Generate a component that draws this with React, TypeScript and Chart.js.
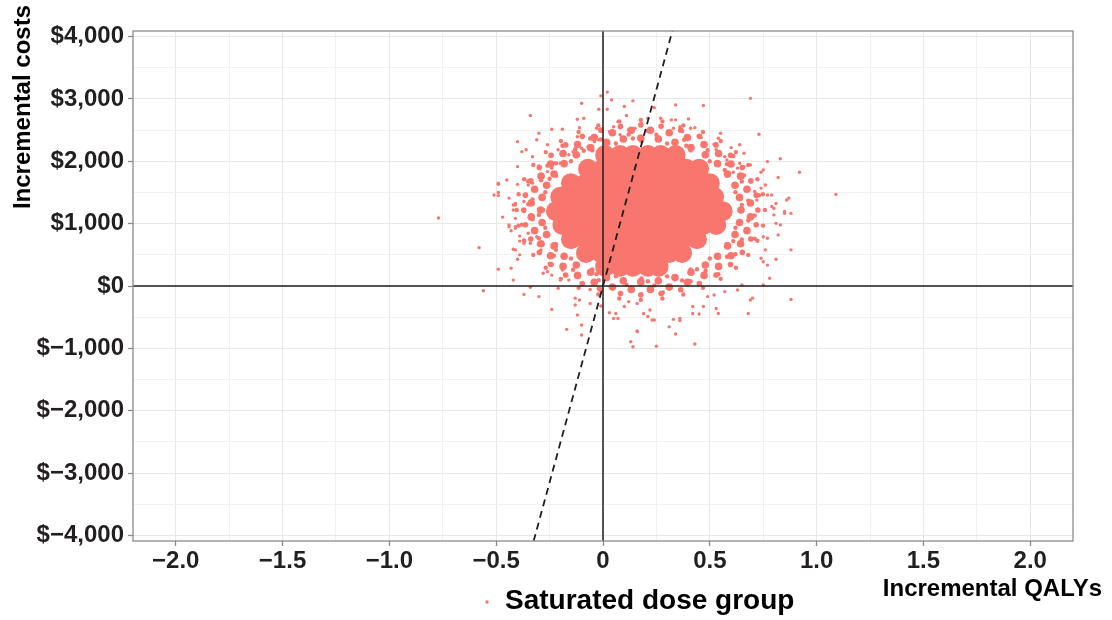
import React, { useEffect, useRef } from 'react';
import { Chart, registerables } from 'chart.js';

Chart.register(...registerables);

// ---------- axis setup ----------
const X_MIN = -2.2;
const X_MAX = 2.2;
const Y_MIN = -4090;
const Y_MAX = 4090;

const xMajorTicks = [-2, -1.5, -1, -0.5, 0, 0.5, 1, 1.5, 2];
const xTickLabels = ['−2.0', '−1.5', '−1.0', '−0.5', '0', '0.5', '1.0', '1.5', '2.0'];
const xMinorTicks = [-1.75, -1.25, -0.75, -0.25, 0.25, 0.75, 1.25, 1.75];

const yMajorTicks = [-4000, -3000, -2000, -1000, 0, 1000, 2000, 3000, 4000];
const yTickLabels = ['$−4,000', '$−3,000', '$−2,000', '$−1,000', '$0', '$1,000', '$2,000', '$3,000', '$4,000'];
const yMinorTicks = [-3500, -2500, -1500, -500, 500, 1500, 2500, 3500];

const wtpThreshold = 12600; // slope of the dashed willingness-to-pay line ($ per QALY)

const seriesLabel = 'Saturated dose group';
const xTitle = 'Incremental QALYs';
const yTitle = 'Incremental costs';

// ---------- simulated (incremental QALY, incremental cost) pairs ----------
const scatterPoints: [number, number][] = [
  // upper-left
  [0.02, 3110], [-0.01, 3050], [0.04, 2985], [0.14, 2970], [-0.10, 2930], [-0.02, 2835], [0.02, 2835],
  [0.10, 2880], [-0.34, 2735], [0.11, 2735], [-0.12, 2675], [-0.09, 2690], [-0.24, 2515], [-0.19, 2515],
  [-0.11, 2540], [-0.30, 2450], [-0.03, 2530], [0.07, 2635], [-0.40, 2315], [-0.31, 2345], [-0.26, 2265],
  [-0.12, 2395], [-0.36, 2185], [-0.38, 2155], [-0.21, 2185], [-0.17, 2265], [-0.33, 2075], [-0.40, 1915],
  [-0.30, 1925], [-0.45, 1700], [-0.49, 1650], [-0.51, 1460], [-0.40, 1630], [-0.35, 1620], [-0.33, 1650],
  [-0.44, 1410], [-0.41, 1325], [-0.42, 1300], [-0.37, 1355], [-0.37, 1195], [-0.26, 1835], [-0.24, 1890],
  [-0.20, 1970], [-0.16, 2105], [-0.14, 2155], [-0.10, 2210], [-0.07, 2235], [-0.04, 2315], [-0.02, 2345],
  [0.03, 2475], [0.05, 2555], [0.08, 2425], [0.12, 2505], [0.15, 2530], [0.18, 2610], [0.21, 2690],
  // upper-right
  [0.69, 3010], [0.34, 2905], [0.47, 2895], [0.24, 2860], [0.40, 2680], [0.32, 2665], [0.34, 2665],
  [0.27, 2690], [0.73, 2435], [0.55, 2450], [0.54, 2370], [0.41, 2530], [0.43, 2540], [0.46, 2380],
  [0.36, 2555], [0.33, 2530], [0.52, 2275], [0.53, 2185], [0.60, 2220], [0.64, 2265], [0.66, 2130],
  [0.57, 2075], [0.58, 2020], [0.83, 2040], [0.77, 1995], [0.92, 1825], [0.69, 1940], [0.66, 1915],
  [0.74, 1825], [0.75, 1860], [0.82, 1740], [0.64, 1970], [0.63, 1890], [0.61, 1825], [1.09, 1470],
  [0.87, 1410], [0.86, 1380], [0.79, 1460], [0.77, 1460], [0.74, 1570], [0.76, 1620], [0.80, 1245],
  [0.85, 1195], [0.81, 1325], [0.72, 1380], [0.71, 1515],
  // lower-left
  [-0.56, -75], [-0.49, 270], [-0.42, 95], [-0.43, 285], [-0.37, -135], [-0.30, -170], [-0.34, -20],
  [-0.24, -375], [-0.17, -695], [-0.10, -785], [-0.12, -465], [-0.13, -305], [-0.13, -195], [-0.11, -225],
  [-0.10, -625], [-0.06, -280], [-0.06, -55], [-0.01, -320], [0.03, -430], [0.05, -520], [0.07, -520],
  [0.06, -440], [0.13, -895], [0.14, -975], [0.16, -720], [0.16, -735], [0.25, -965], [0.24, -545],
  [0.21, -490], [0.19, -440], [0.22, -385], [0.10, -330], [0.12, -250], [0.16, -280], [-0.21, -35],
  [-0.20, 95], [-0.16, 95], [-0.10, 15], [-0.28, 205], [-0.26, 230], [-0.24, 175], [-0.19, 255],
  [-0.41, 580], [-0.37, 685], [-0.39, 500], [-0.44, 980], [-0.41, 950], [-0.47, 1105], [-0.41, 1085],
  [-0.42, 1220], [-0.41, 1300], [-0.34, 685], [-0.29, 580], [-0.31, 790], [-0.35, 845], [-0.37, 740],
  // lower-right
  [0.88, -215], [0.88, 580], [0.81, 430], [0.78, 125], [0.77, 335], [0.75, 15], [0.68, -440],
  [0.70, -195], [0.69, -225], [0.63, -65], [0.65, 15], [0.54, -440], [0.53, -360], [0.47, -330],
  [0.43, -930], [0.34, -770], [0.31, -655], [0.36, -520], [0.33, -535], [0.36, -555], [0.23, -545],
  [0.42, -440], [0.45, -450], [0.42, -330], [0.49, -170], [0.52, -145], [0.57, -90], [0.88, 1165],
  [0.85, 1165], [0.83, 980], [0.82, 820], [0.75, 790], [0.77, 765], [0.76, 580], [0.74, 445],
  [0.75, 390], [0.79, 1275], [0.80, 1140], [0.81, 1005],
  // far left
  [-0.77, 1090], [-0.58, 615], [-0.49, 1450], [-0.49, 1500], [-0.49, 1630], [-0.44, 950], [-0.43, 885],
  [-0.41, 925], [-0.39, 800], [-0.39, 720], [-0.42, 590], [-0.40, 430],
];

// speckled band around the solid core
const ringPoints: [number, number][] = [
  [0.64, 1220], [0.62, 1505], [0.58, 1770], [0.50, 2000], [0.41, 2175], [0.30, 2285], [0.18, 2320],
  [0.06, 2285], [-0.05, 2175], [-0.15, 2000], [-0.22, 1770], [-0.27, 1505], [-0.28, 1220], [-0.27, 935],
  [-0.22, 670], [-0.15, 440], [-0.05, 265], [0.06, 155], [0.18, 120], [0.30, 155], [0.41, 265],
  [0.50, 440], [0.58, 670], [0.62, 935],
  [0.68, 1370], [0.65, 1675], [0.58, 1955], [0.49, 2180], [0.38, 2345], [0.25, 2425], [0.12, 2430],
  [-0.01, 2350], [-0.13, 2195], [-0.22, 1970], [-0.29, 1695], [-0.33, 1390], [-0.33, 1070], [-0.30, 765],
  [-0.23, 485], [-0.14, 260], [-0.02, 95], [0.11, 15], [0.24, 10], [0.37, 90], [0.48, 245],
  [0.58, 470], [0.65, 745], [0.68, 1050],
  [0.73, 1455], [0.61, 2085], [0.37, 2485], [0.08, 2545], [-0.19, 2250], [-0.35, 1680], [-0.38, 985],
  [-0.25, 355], [-0.02, -45], [0.28, -105], [0.54, 190], [0.71, 760],
  [0.65, 1300], [0.57, 1860], [0.39, 2250], [0.14, 2365], [-0.09, 2170], [-0.25, 1720], [-0.30, 1140],
  [-0.22, 580], [-0.03, 190], [0.21, 75], [0.44, 270], [0.61, 720],
  [0.66, 1775], [0.47, 2275], [0.21, 2490], [-0.06, 2365], [-0.26, 1930], [-0.35, 1310], [-0.30, 665],
  [-0.12, 165], [0.14, -50], [0.41, 75], [0.62, 510], [0.71, 1130],
  [0.758, 1220], [0.749, 1471], [0.723, 1714], [0.680, 1942], [0.622, 2148], [0.551, 2325], [0.468, 2470],
  [0.376, 2576], [0.278, 2641], [0.177, 2663], [0.076, 2641], [-0.022, 2576], [-0.114, 2470], [-0.197, 2325],
  [-0.268, 2148], [-0.326, 1942], [-0.369, 1714], [-0.395, 1471], [-0.404, 1220], [-0.395, 969], [-0.369, 726],
  [-0.326, 499], [-0.268, 292], [-0.197, 115], [-0.114, -30], [-0.022, -136], [0.076, -201], [0.177, -223],
  [0.278, -201], [0.376, -136], [0.468, -30], [0.551, 115], [0.622, 292], [0.680, 499], [0.723, 726],
  [0.749, 969],
];

// middle band between the dense inner band and the speckled edge
const midBandPoints: [number, number][] = [
  [0.725, 1220], [0.717, 1457], [0.692, 1686], [0.652, 1901], [0.597, 2096], [0.529, 2263], [0.451, 2400],
  [0.364, 2500], [0.272, 2561], [0.177, 2582], [0.082, 2561], [-0.010, 2500], [-0.097, 2400], [-0.175, 2263],
  [-0.243, 2096], [-0.298, 1901], [-0.338, 1686], [-0.363, 1457], [-0.371, 1220], [-0.363, 983], [-0.338, 754],
  [-0.298, 539], [-0.243, 344], [-0.175, 177], [-0.097, 40], [-0.010, -60], [0.082, -121], [0.177, -142],
  [0.272, -121], [0.364, -60], [0.451, 40], [0.529, 177], [0.597, 344], [0.652, 539], [0.692, 754],
  [0.717, 983],
];

// dense inner band hugging the saturated core
const innerBandPoints: [number, number][] = [
  [0.646, 1220], [0.639, 1421], [0.618, 1615], [0.583, 1797], [0.536, 1962], [0.479, 2104], [0.412, 2219],
  [0.337, 2305], [0.259, 2357], [0.177, 2374], [0.095, 2357], [0.017, 2305], [-0.058, 2219], [-0.125, 2104],
  [-0.182, 1962], [-0.229, 1797], [-0.264, 1615], [-0.285, 1421], [-0.292, 1220], [-0.285, 1019], [-0.264, 825],
  [-0.229, 643], [-0.182, 478], [-0.125, 336], [-0.058, 221], [0.017, 135], [0.095, 83], [0.177, 66],
  [0.259, 83], [0.337, 135], [0.412, 221], [0.479, 336], [0.536, 478], [0.583, 643], [0.618, 825],
  [0.639, 1019],
  [0.690, 1332], [0.674, 1552], [0.644, 1762], [0.599, 1956], [0.541, 2126], [0.473, 2270], [0.395, 2381],
  [0.310, 2458], [0.222, 2497], [0.132, 2497], [0.044, 2458], [-0.041, 2381], [-0.119, 2270], [-0.187, 2126],
  [-0.245, 1956], [-0.290, 1762], [-0.320, 1552], [-0.336, 1332], [-0.336, 1108], [-0.320, 888], [-0.290, 678],
  [-0.245, 484], [-0.187, 314], [-0.119, 170], [-0.041, 59], [0.044, -18], [0.132, -57], [0.222, -57],
  [0.310, -18], [0.395, 59], [0.473, 170], [0.541, 314], [0.599, 484], [0.644, 678], [0.674, 888],
  [0.690, 1108],
];

// the saturated core of the cloud: one row of QALY positions per cost level
const coreRowCosts = [2100, 1880, 1650, 1430, 1200, 980, 750, 530, 310];
const coreRowQalys: number[][] = [
  [0.01, 0.08, 0.14, 0.21, 0.27, 0.34],
  [-0.07, 0.00, 0.06, 0.13, 0.19, 0.26, 0.32, 0.39, 0.45],
  [-0.15, -0.08, -0.02, 0.05, 0.11, 0.18, 0.24, 0.31, 0.37, 0.44, 0.50],
  [-0.20, -0.13, -0.07, 0.00, 0.07, 0.13, 0.20, 0.26, 0.33, 0.39, 0.46, 0.52],
  [-0.22, -0.15, -0.09, -0.02, 0.04, 0.11, 0.17, 0.24, 0.30, 0.37, 0.43, 0.50, 0.56],
  [-0.19, -0.12, -0.06, 0.01, 0.07, 0.14, 0.20, 0.27, 0.34, 0.40, 0.47, 0.53],
  [-0.15, -0.08, -0.02, 0.05, 0.11, 0.18, 0.24, 0.31, 0.37, 0.44],
  [-0.08, -0.01, 0.05, 0.12, 0.18, 0.25, 0.31, 0.37],
  [0.01, 0.08, 0.14, 0.21, 0.26],
];

// ---------- styling ----------
const POINT_COLOR = '#F8766D';
const TEXT_COLOR = '#231F20';
const FONT_FAMILY = "'Liberation Sans', Arial, Helvetica, sans-serif";
const GRID_MAJOR = '#E8E8E8';
const GRID_MINOR = '#F1F1F1';
const FRAME_COLOR = '#8A8A8A';

const isIn = (arr: number[], v: number) => arr.some((a) => Math.abs(a - v) < 1e-9);

const decorPlugin = {
  id: 'decor',
  afterDraw(chart: any) {
    const { ctx, chartArea } = chart;
    const { left, top, right, bottom } = chartArea;
    ctx.save();
    // panel border
    ctx.strokeStyle = FRAME_COLOR;
    ctx.lineWidth = 1.3;
    ctx.strokeRect(left, top, right - left, bottom - top);

    // y title (rotated)
    ctx.fillStyle = '#000';
    ctx.font = `bold 24px ${FONT_FAMILY}`;
    ctx.save();
    ctx.translate(30, 5);
    ctx.rotate(-Math.PI / 2);
    ctx.textAlign = 'right';
    ctx.textBaseline = 'alphabetic';
    ctx.fillText(yTitle, 0, 0);
    ctx.restore();

    // x title (right aligned, below the axis)
    ctx.textAlign = 'right';
    ctx.textBaseline = 'alphabetic';
    ctx.fillText(xTitle, right + 29, 596);

    // legend
    ctx.fillStyle = POINT_COLOR;
    ctx.beginPath();
    ctx.arc(487, 602, 1.7, 0, Math.PI * 2);
    ctx.fill();
    ctx.fillStyle = '#000';
    ctx.font = `bold 28px ${FONT_FAMILY}`;
    ctx.textAlign = 'left';
    ctx.fillText(seriesLabel, 505, 609);
    ctx.restore();
  },
};

const pointSet = (label: string, data: { x: number; y: number }[], radius: number, order: number) => ({
  label,
  data,
  pointRadius: radius,
  pointHoverRadius: radius,
  pointBackgroundColor: POINT_COLOR,
  pointBorderWidth: 0,
  order,
});

export default function App() {
  const canvasRef = useRef<HTMLCanvasElement>(null);

  useEffect(() => {
    if (!canvasRef.current) return;
    Chart.defaults.font.family = FONT_FAMILY;

    const toXY = (p: [number, number]) => ({ x: p[0], y: p[1] });
    const coreData = coreRowCosts.flatMap((c, i) => coreRowQalys[i].map((q) => ({ x: q, y: c })));

    const xTickValues = [...xMinorTicks, ...xMajorTicks].sort((a, b) => a - b);
    const yTickValues = [...yMinorTicks, ...yMajorTicks].sort((a, b) => a - b);

    const lineSet = (label: string, data: { x: number; y: number }[], width: number, dash: number[]) => ({
      label,
      data,
      showLine: true,
      pointRadius: 0,
      borderColor: '#1E1E1E',
      borderWidth: width,
      borderDash: dash,
      order: 0,
    });

    const chart = new Chart(canvasRef.current, {
      type: 'scatter',
      data: {
        datasets: [
          lineSet('zero cost', [{ x: X_MIN, y: 0 }, { x: X_MAX, y: 0 }], 1.5, []),
          lineSet('zero QALY', [{ x: 0, y: Y_MIN }, { x: 0, y: Y_MAX }], 1.5, []),
          lineSet(
            'WTP threshold',
            [{ x: Y_MIN / wtpThreshold, y: Y_MIN }, { x: Y_MAX / wtpThreshold, y: Y_MAX }],
            1.8,
            [7, 5]
          ),
          pointSet(seriesLabel, scatterPoints.map(toXY), 1.7, 1),
          pointSet('band', ringPoints.map(toXY), 2.2, 2),
          pointSet('mid band', midBandPoints.map(toXY), 2.8, 3),
          pointSet('inner band', innerBandPoints.map(toXY), 3.8, 4),
          pointSet('core', coreData, 10, 5),
        ],
      },
      options: {
        animation: false,
        responsive: true,
        maintainAspectRatio: false,
        events: [],
        layout: { padding: { top: 31, right: 39, left: 0, bottom: 0 } },
        plugins: {
          legend: { display: false },
          tooltip: { enabled: false },
        },
        scales: {
          x: {
            type: 'linear',
            min: X_MIN,
            max: X_MAX,
            afterBuildTicks: (scale: any) => {
              scale.ticks = xTickValues.map((v) => ({ value: v }));
            },
            afterFit: (scale: any) => {
              scale.height = 79;
            },
            border: { display: false },
            grid: {
              color: (ctx: any) => (isIn(xMajorTicks, ctx.tick?.value) ? GRID_MAJOR : GRID_MINOR),
              lineWidth: 1,
              drawTicks: true,
              tickLength: 5,
              tickWidth: 1.3,
              tickColor: (ctx: any) => (isIn(xMajorTicks, ctx.tick?.value) ? FRAME_COLOR : 'rgba(0,0,0,0)'),
            },
            ticks: {
              autoSkip: false,
              maxRotation: 0,
              padding: 1,
              color: TEXT_COLOR,
              font: { size: 24, weight: 'bold' },
              callback: (v: any) => {
                const i = xMajorTicks.findIndex((t) => Math.abs(t - Number(v)) < 1e-9);
                return i >= 0 ? xTickLabels[i] : '';
              },
            },
          },
          y: {
            type: 'linear',
            min: Y_MIN,
            max: Y_MAX,
            afterBuildTicks: (scale: any) => {
              scale.ticks = yTickValues.map((v) => ({ value: v }));
            },
            afterFit: (scale: any) => {
              scale.width = 133;
            },
            border: { display: false },
            grid: {
              color: (ctx: any) => (isIn(yMajorTicks, ctx.tick?.value) ? GRID_MAJOR : GRID_MINOR),
              lineWidth: 1,
              drawTicks: true,
              tickLength: 5,
              tickWidth: 1.3,
              tickColor: (ctx: any) => (isIn(yMajorTicks, ctx.tick?.value) ? FRAME_COLOR : 'rgba(0,0,0,0)'),
            },
            ticks: {
              autoSkip: false,
              padding: 4,
              color: TEXT_COLOR,
              font: { size: 24, weight: 'bold' },
              callback: (v: any) => {
                const i = yMajorTicks.findIndex((t) => Math.abs(t - Number(v)) < 1e-9);
                return i >= 0 ? yTickLabels[i] : '';
              },
            },
          },
        },
      },
      plugins: [decorPlugin],
    } as any);

    return () => chart.destroy();
  }, []);

  return (
    <div style={{ position: 'absolute', left: 0, top: 0, width: 1112, height: 620, background: '#fff' }}>
      <canvas ref={canvasRef} />
    </div>
  );
}
